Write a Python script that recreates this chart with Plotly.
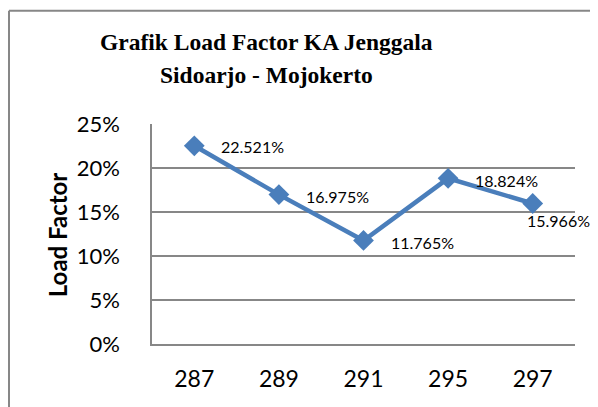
import plotly.graph_objects as go

categories = ["287", "289", "291", "295", "297"]
load_factor = [0.22521, 0.16975, 0.11765, 0.18824, 0.15966]
label_texts = ["22.521%", "16.975%", "11.765%", "18.824%", "15.966%"]

# the page body has an 8px margin, so the figure is offset by (8, 8)
OFF = 8
W, H = 598 - OFF, 407 - OFF
L, R, T, B = 152 - OFF, 575 - OFF, 123.5 - OFF, 344 - OFF

def px_x(px):
    return (px - OFF - L) / (R - L)

def px_y(py):
    return (B - (py - OFF)) / (B - T)

fig = go.Figure()
fig.add_trace(go.Scatter(
    x=categories, y=load_factor, mode="lines+markers",
    line=dict(color="#4A7EBB", width=4.5),
    marker=dict(symbol="diamond", size=16, color="#4A7EBB"),
    hoverinfo="skip", showlegend=False,
))

label_font = dict(family="Lato", size=16, color="#000000")
shifts = [(25, -1), (25, -2), (25, -2), (25, -2), (-8, -17)]
for i, (v, t, (dx, dy)) in enumerate(zip(load_factor, label_texts, shifts)):
    fig.add_annotation(x=i, y=v, text=t, showarrow=False, xanchor="left",
                       yanchor="middle", xshift=dx, yshift=dy, font=label_font)

gray = "#878787"
fig.update_layout(
    width=W, height=H,
    margin=dict(l=L, r=W - R, t=T, b=H - B, pad=0),
    paper_bgcolor="white", plot_bgcolor="white",
    xaxis=dict(type="category", range=[-0.5, 4.5], showline=True, linecolor=gray, linewidth=1.5,
               showgrid=False, ticks="", tickfont=dict(family="Lato", size=23, color="#000"),
               ticklabelstandoff=14, fixedrange=True),
    yaxis=dict(range=[0, 0.25], dtick=0.05, tickformat=".0%", showline=True,
               linecolor=gray, linewidth=1.5, showgrid=True, gridcolor=gray, gridwidth=1.5,
               zeroline=False, ticks="", tickfont=dict(family="Lato", size=22, color="#000"),
               ticklabelstandoff=26, fixedrange=True),
)

fig.add_annotation(xref="paper", yref="paper", x=px_x(57), y=px_y(235), text="<b>Load Factor</b>",
                   textangle=-90, showarrow=False, font=dict(family="Lato", size=24, color="#000"),
                   xanchor="center", yanchor="middle")

title_font = dict(family="Liberation Serif", size=23.5, color="#000")
fig.add_annotation(xref="paper", yref="paper", x=px_x(266), y=px_y(41),
                   text="<b>Grafik Load Factor KA Jenggala</b>", showarrow=False,
                   font=title_font, xanchor="center", yanchor="middle")
fig.add_annotation(xref="paper", yref="paper", x=px_x(266), y=px_y(74),
                   text="<b>Sidoarjo - Mojokerto</b>", showarrow=False,
                   font=title_font, xanchor="center", yanchor="middle")

# outer chart frame (right and bottom edges lie outside the picture)
fig.add_shape(type="line", xref="paper", yref="paper", x0=px_x(9), x1=px_x(9),
              y0=px_y(10), y1=px_y(420), line=dict(color=gray, width=2))
fig.add_shape(type="line", xref="paper", yref="paper", x0=px_x(9), x1=px_x(610),
              y0=px_y(10), y1=px_y(10), line=dict(color=gray, width=2))

fig.write_html("out.html")
